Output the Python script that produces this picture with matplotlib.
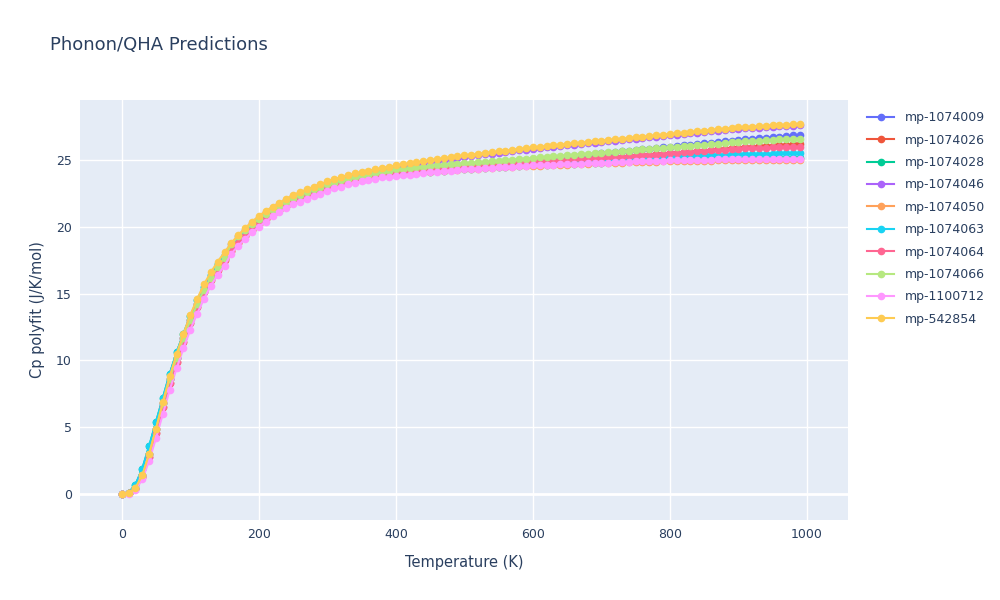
import matplotlib
matplotlib.use("Agg")
import matplotlib.pyplot as plt

TEMPS = list(range(0, 1000, 10))

# low-T (0-150 K), mid (160-400 K), high (410-990 K)
LOW_BASE = [0, 0.05, 0.45, 1.4, 3.0, 4.9, 6.8, 8.6, 10.2, 11.7, 13.0, 14.2, 15.3, 16.2, 17.0, 17.7]
LOW_RED = [0, 0.05, 0.4, 1.3, 2.8, 4.6, 6.5, 8.3, 9.9, 11.4, 12.8, 14.0, 15.1, 16.0, 16.8, 17.5]
LOW_GREEN = [0, 0.1, 0.7, 1.9, 3.6, 5.4, 7.2, 9.0, 10.6, 12.0, 13.3, 14.5, 15.5, 16.4, 17.2, 17.9]
LOW_PINK = [0, 0.03, 0.3, 1.1, 2.5, 4.2, 6.0, 7.8, 9.4, 10.9, 12.3, 13.5, 14.6, 15.6, 16.4, 17.1]
LOW_YELLOW = [0, 0.05, 0.45, 1.4, 3.0, 4.9, 6.9, 8.8, 10.5, 12.0, 13.4, 14.6, 15.7, 16.6, 17.4, 18.1]

MID_BLUE = [18.4, 19.0, 19.5, 20.0, 20.4, 20.8, 21.1, 21.4, 21.7, 22.0, 22.2, 22.4, 22.6, 22.8, 23.0,
            23.2, 23.3, 23.5, 23.6, 23.7, 23.8, 23.9, 24.0, 24.1, 24.2]
MID_RED = [18.2, 18.8, 19.3, 19.8, 20.2, 20.6, 21.0, 21.3, 21.6, 21.9, 22.1, 22.3, 22.5, 22.7, 22.9,
           23.1, 23.2, 23.4, 23.5, 23.6, 23.7, 23.8, 23.9, 24.0, 24.1]
MID_GREEN = [18.5, 19.1, 19.6, 20.0, 20.4, 20.8, 21.1, 21.4, 21.7, 22.0, 22.2, 22.4, 22.6, 22.8, 22.9,
             23.1, 23.2, 23.3, 23.4, 23.5, 23.6, 23.7, 23.8, 23.85, 23.9]
MID_PURPLE = [18.7, 19.3, 19.8, 20.3, 20.7, 21.1, 21.4, 21.7, 22.0, 22.3, 22.5, 22.7, 22.9, 23.1, 23.3,
              23.5, 23.6, 23.8, 23.9, 24.0, 24.1, 24.2, 24.3, 24.4, 24.5]
MID_ORANGE = [18.3, 18.9, 19.4, 19.9, 20.3, 20.7, 21.0, 21.3, 21.6, 21.9, 22.1, 22.3, 22.5, 22.7, 22.9,
              23.0, 23.2, 23.3, 23.4, 23.5, 23.6, 23.7, 23.8, 23.85, 23.9]
MID_CYAN = [18.4, 19.0, 19.5, 20.0, 20.4, 20.8, 21.1, 21.4, 21.7, 21.95, 22.15, 22.35, 22.55, 22.75, 22.9,
            23.05, 23.2, 23.35, 23.5, 23.6, 23.7, 23.8, 23.85, 23.9, 24.0]
MID_LGREEN = [18.7, 19.3, 19.8, 20.2, 20.6, 21.0, 21.3, 21.6, 21.9, 22.2, 22.4, 22.6, 22.8, 23.0, 23.2,
              23.3, 23.5, 23.6, 23.7, 23.8, 23.9, 24.0, 24.1, 24.2, 24.3]
MID_PINK = [18.0, 18.6, 19.1, 19.6, 20.0, 20.4, 20.8, 21.1, 21.4, 21.7, 21.9, 22.1, 22.3, 22.5, 22.7,
            22.9, 23.0, 23.2, 23.3, 23.4, 23.5, 23.6, 23.7, 23.75, 23.8]
MID_YELLOW = [18.8, 19.4, 19.9, 20.4, 20.8, 21.2, 21.5, 21.8, 22.1, 22.4, 22.6, 22.8, 23.0, 23.2, 23.4,
              23.6, 23.7, 23.9, 24.0, 24.1, 24.2, 24.3, 24.4, 24.5, 24.6]

HIGH_BLUE = [24.25, 24.3, 24.35, 24.4, 24.45, 24.5, 24.55, 24.6, 24.64, 24.68,
             24.72, 24.76, 24.8, 24.84, 24.88, 24.92, 24.96, 25.0, 25.04, 25.08,
             25.12, 25.16, 25.2, 25.24, 25.28, 25.32, 25.36, 25.4, 25.45, 25.5,
             25.55, 25.6, 25.65, 25.7, 25.75, 25.8, 25.85, 25.9, 25.95, 26.0,
             26.05, 26.1, 26.15, 26.2, 26.25, 26.3, 26.35, 26.4, 26.45, 26.5,
             26.55, 26.6, 26.64, 26.68, 26.72, 26.76, 26.8, 26.85, 26.9]
HIGH_RED = [24.15, 24.2, 24.25, 24.3, 24.34, 24.38, 24.42, 24.46, 24.5, 24.54,
            24.58, 24.62, 24.66, 24.7, 24.73, 24.76, 24.79, 24.82, 24.85, 24.88,
            24.91, 24.94, 24.97, 25.0, 25.03, 25.06, 25.09, 25.12, 25.15, 25.18,
            25.21, 25.24, 25.27, 25.3, 25.33, 25.36, 25.4, 25.44, 25.48, 25.52,
            25.56, 25.6, 25.64, 25.68, 25.72, 25.76, 25.8, 25.84, 25.88, 25.92,
            25.96, 26.0, 26.03, 26.06, 26.09, 26.12, 26.15, 26.18, 26.2]
HIGH_RED2 = [24.15, 24.2, 24.25, 24.3, 24.34, 24.38, 24.42, 24.46, 24.5, 24.54,
             24.58, 24.62, 24.66, 24.7, 24.73, 24.76, 24.79, 24.82, 24.85, 24.88,
             24.91, 24.94, 24.97, 25.0, 25.03, 25.06, 25.09, 25.12, 25.15, 25.18,
             25.2, 25.23, 25.26, 25.29, 25.32, 25.35, 25.38, 25.42, 25.46, 25.5,
             25.54, 25.58, 25.62, 25.66, 25.7, 25.73, 25.76, 25.79, 25.82, 25.85,
             25.87, 25.89, 25.91, 25.93, 25.95, 25.96, 25.97, 25.99, 26.0]
HIGH_GREEN = [23.95, 24.0, 24.05, 24.1, 24.14, 24.18, 24.22, 24.26, 24.3, 24.34,
              24.37, 24.4, 24.43, 24.46, 24.49, 24.52, 24.55, 24.58, 24.6, 24.62,
              24.64, 24.66, 24.68, 24.7, 24.72, 24.74, 24.76, 24.78, 24.8, 24.82,
              24.84, 24.86, 24.88, 24.9, 24.92, 24.94, 24.96, 24.98, 25.0, 25.02,
              25.03, 25.04, 25.05, 25.06, 25.07, 25.08, 25.09, 25.1, 25.11, 25.12,
              25.13, 25.13, 25.14, 25.14, 25.15, 25.15, 25.16, 25.16, 25.17]
HIGH_ORANGE = [23.93, 23.98, 24.03, 24.08, 24.12, 24.16, 24.2, 24.24, 24.28, 24.31,
               24.34, 24.37, 24.4, 24.43, 24.46, 24.49, 24.51, 24.53, 24.55, 24.57,
               24.59, 24.61, 24.63, 24.65, 24.67, 24.69, 24.71, 24.73, 24.75, 24.77,
               24.79, 24.8, 24.82, 24.83, 24.85, 24.86, 24.88, 24.89, 24.9, 24.91,
               24.92, 24.93, 24.94, 24.95, 24.96, 24.97, 24.98, 24.98, 24.99, 25.0,
               25.0, 25.01, 25.01, 25.02, 25.02, 25.03, 25.03, 25.03, 25.04]
HIGH_PINK = [23.86, 23.92, 23.98, 24.03, 24.08, 24.13, 24.18, 24.22, 24.26, 24.3,
             24.34, 24.37, 24.4, 24.43, 24.46, 24.49, 24.52, 24.55, 24.57, 24.6,
             24.62, 24.64, 24.66, 24.68, 24.7, 24.72, 24.74, 24.76, 24.78, 24.8,
             24.82, 24.84, 24.86, 24.88, 24.9, 24.92, 24.94, 24.96, 24.97, 24.98,
             24.99, 25.0, 25.01, 25.02, 25.03, 25.04, 25.05, 25.06, 25.06, 25.07,
             25.08, 25.08, 25.09, 25.09, 25.1, 25.1, 25.11, 25.11, 25.12]
HIGH_CYAN = [24.05, 24.1, 24.15, 24.2, 24.24, 24.28, 24.32, 24.36, 24.4, 24.44,
             24.48, 24.52, 24.56, 24.6, 24.63, 24.66, 24.69, 24.72, 24.75, 24.78,
             24.81, 24.84, 24.87, 24.9, 24.93, 24.96, 24.99, 25.02, 25.05, 25.08,
             25.1, 25.12, 25.14, 25.16, 25.18, 25.2, 25.22, 25.24, 25.26, 25.28,
             25.3, 25.32, 25.34, 25.36, 25.38, 25.4, 25.41, 25.42, 25.43, 25.44,
             25.45, 25.46, 25.47, 25.48, 25.49, 25.5, 25.5, 25.51, 25.52]
HIGH_LGREEN = [24.35, 24.4, 24.45, 24.5, 24.55, 24.6, 24.64, 24.68, 24.72, 24.76,
               24.8, 24.84, 24.88, 24.92, 24.96, 25.0, 25.04, 25.08, 25.12, 25.16,
               25.2, 25.24, 25.28, 25.32, 25.36, 25.4, 25.44, 25.48, 25.52, 25.56,
               25.6, 25.64, 25.68, 25.72, 25.76, 25.8, 25.84, 25.88, 25.92, 25.96,
               26.0, 26.04, 26.08, 26.12, 26.16, 26.2, 26.24, 26.28, 26.32, 26.36,
               26.4, 26.43, 26.46, 26.49, 26.52, 26.55, 26.57, 26.59, 26.6]
HIGH_PURPLE = [24.58, 24.66, 24.74, 24.82, 24.9, 24.97, 25.04, 25.11, 25.18, 25.25,
               25.31, 25.37, 25.43, 25.49, 25.55, 25.61, 25.67, 25.73, 25.79, 25.85,
               25.9, 25.95, 26.0, 26.05, 26.1, 26.15, 26.2, 26.25, 26.3, 26.35,
               26.4, 26.45, 26.5, 26.55, 26.6, 26.65, 26.7, 26.75, 26.8, 26.85,
               26.9, 26.95, 27.0, 27.05, 27.1, 27.15, 27.2, 27.25, 27.3, 27.35,
               27.38, 27.41, 27.44, 27.47, 27.5, 27.53, 27.55, 27.58, 27.6]
HIGH_YELLOW = [24.68, 24.76, 24.84, 24.92, 25.0, 25.07, 25.14, 25.21, 25.28, 25.35,
               25.41, 25.47, 25.53, 25.59, 25.65, 25.71, 25.77, 25.83, 25.89, 25.95,
               26.0, 26.05, 26.1, 26.15, 26.2, 26.25, 26.3, 26.35, 26.4, 26.45,
               26.5, 26.55, 26.6, 26.65, 26.7, 26.75, 26.8, 26.85, 26.9, 26.95,
               27.0, 27.05, 27.1, 27.15, 27.2, 27.25, 27.3, 27.35, 27.4, 27.45,
               27.48, 27.51, 27.54, 27.57, 27.6, 27.63, 27.65, 27.68, 27.7]

SERIES = [
    ("mp-1074009", "#636efa", LOW_BASE + MID_BLUE + HIGH_BLUE),
    ("mp-1074026", "#EF553B", LOW_RED + MID_RED + HIGH_RED),
    ("mp-1074028", "#00cc96", LOW_GREEN + MID_GREEN + HIGH_GREEN),
    ("mp-1074046", "#ab63fa", LOW_BASE + MID_PURPLE + HIGH_PURPLE),
    ("mp-1074050", "#FFA15A", LOW_BASE + MID_ORANGE + HIGH_ORANGE),
    ("mp-1074063", "#19d3f3", LOW_GREEN + MID_CYAN + HIGH_CYAN),
    ("mp-1074064", "#FF6692", LOW_RED + MID_RED + HIGH_RED2),
    ("mp-1074066", "#B6E880", LOW_BASE + MID_LGREEN + HIGH_LGREEN),
    ("mp-1100712", "#FF97FF", LOW_PINK + MID_PINK + HIGH_PINK),
    ("mp-542854", "#FECB52", LOW_YELLOW + MID_YELLOW + HIGH_YELLOW),
]

TEXT = "#2a3f5f"

fig = plt.figure(figsize=(10, 6), dpi=100)
ax = fig.add_axes([0.08, 0.1333, 0.768, 0.70])
ax.set_facecolor("#E5ECF6")
for s in ax.spines.values():
    s.set_visible(False)
ax.grid(color="white", linewidth=1)
ax.set_axisbelow(True)

for name, color, vals in SERIES:
    ax.plot(TEMPS, vals, color=color, lw=1.5, marker="o", ms=4.5, label=name)

ax.set_xlim(-61, 1060)
ax.set_ylim(-1.95, 29.5)
ax.set_xticks([0, 200, 400, 600, 800, 1000])
ax.set_yticks([0, 5, 10, 15, 20, 25])
ax.tick_params(length=0, labelsize=9, colors=TEXT, pad=6)
ax.axhline(0, color="white", lw=2, zorder=0.5)
ax.set_xlabel("Temperature (K)", color=TEXT, fontsize=10.5, labelpad=10)
ax.set_ylabel("Cp polyfit (J/K/mol)", color=TEXT, fontsize=10.5, labelpad=8)

fig.text(0.05, 0.925, "Phonon/QHA Predictions", color=TEXT, fontsize=13, va="center")
ax.legend(loc="upper left", bbox_to_anchor=(1.01, 1.0), frameon=False,
          fontsize=9, labelcolor=TEXT, handlelength=2.2, labelspacing=0.75)

fig.savefig("out.png", dpi=100)
